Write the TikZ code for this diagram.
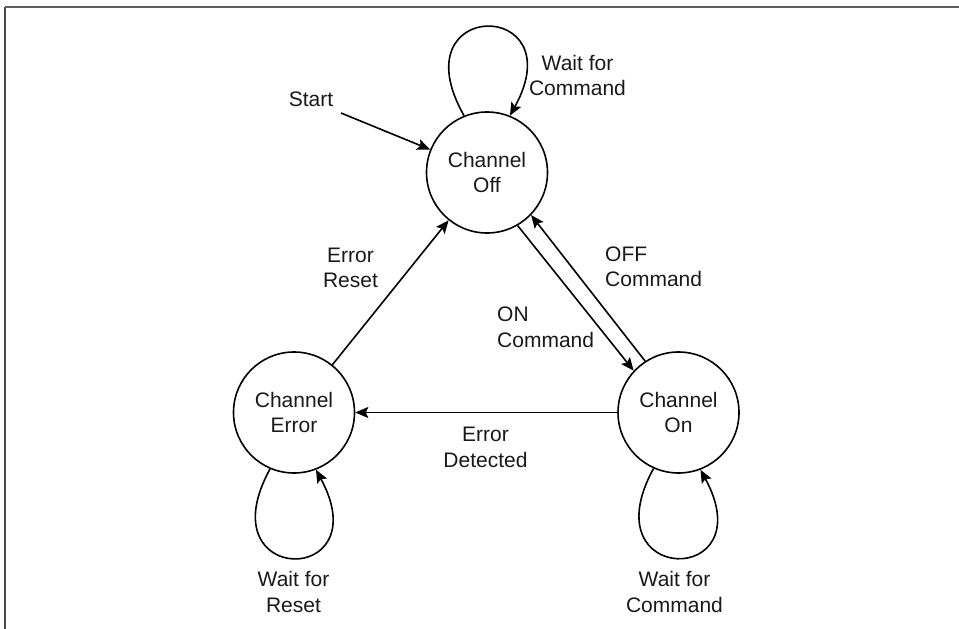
\documentclass[tikz,border=0pt]{standalone}
\usepackage{fontspec}
\setmainfont{Liberation Sans}
\usetikzlibrary{arrows.meta}
\begin{document}
\begin{tikzpicture}[x=1pt,y=-1pt,
  txt/.style={font=\fontsize{21}{25.5}\selectfont, text=black!90},
  state/.style={txt,circle,draw,line width=1.6pt,minimum size=121pt,inner sep=0pt,align=center},
  lbl/.style={txt,inner sep=0pt,align=center},
  lbll/.style={txt,inner sep=0pt,align=left},
  edge/.style={line width=1.6pt,-{Stealth[length=13pt,width=11pt,inset=2.5pt]}},
  framet/.style={line width=2pt,draw={rgb,255:red,95;green,95;blue,95}},
  framel/.style={line width=1.3pt,draw={rgb,255:red,70;green,70;blue,70}}]
\useasboundingbox (0,0) rectangle (959,629);
% frame
\coordinate (fa) at (5,629);
\coordinate (fb) at (5,7);
\coordinate (fc) at (959,7);
\draw[framel] (fa) -- (fb);
\draw[framet] (fb) -- (fc);
% states
\node[state] (off) at (487,172.5) {Channel\\Off};
\node[state] (err) at (294,412.5) {Channel\\Error};
\node[state] (on) at (678.5,412.5) {Channel\\On};
% labels
\node[lbl] (wfc1) at (577.5,75.5) {Wait for\\Command};
\node[lbl] (start) at (311,99.5) {Start};
\node[lbl] (er) at (350.5,268) {Error\\Reset};
\node[lbll,anchor=west] (offc) at (605,267) {OFF\\Command};
\node[lbll,anchor=west] (onc) at (497,327.5) {ON\\Command};
\node[lbl] (ed) at (485.5,447.5) {Error\\Detected};
\node[lbl] (wfr) at (293.5,592) {Wait for\\Reset};
\node[lbl] (wfc2) at (674.5,592) {Wait for\\Command};
% connectors
\coordinate (s0) at (341,113);
\draw[edge] (s0) -- (off.158);
\draw[edge] (err) -- (off);
\draw[edge] (on) -- (err);
\draw[edge] (off.-60) -- (on.137);
\draw[edge] (on.123) -- (off.-44);
% self loops
\draw[edge] (off.112) .. controls +(-67,-118) and +(65,-118) .. (off.68);
\draw[edge] (err.247) .. controls +(-65,118) and +(64,118) .. (err.291);
\draw[edge] (on.246) .. controls +(-65,118) and +(64,118) .. (on.291);
\end{tikzpicture}
\end{document}
